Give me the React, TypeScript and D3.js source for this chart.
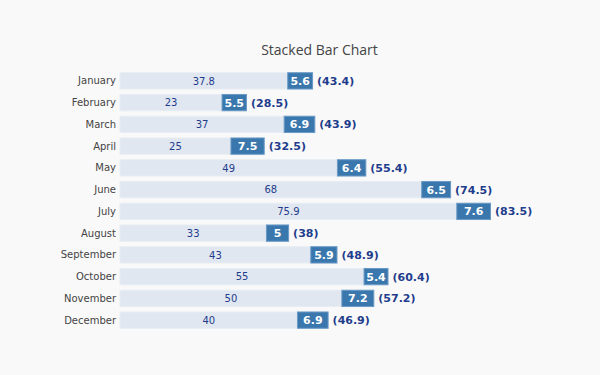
import React from "react";
import * as d3 from "d3";

const months = ["January","February","March","April","May","June","July","August","September","October","November","December"];
const baseValues = [37.8, 23, 37, 25, 49, 68, 75.9, 33, 43, 55, 50, 40];
const addValues = [5.6, 5.5, 6.9, 7.5, 6.4, 6.5, 7.6, 5, 5.9, 5.4, 7.2, 6.9];
const totalLabels = ["43.4","28.5","43.9","32.5","55.4","74.5","83.5","38","48.9","60.4","57.2","46.9"];

const W = 600, H = 375;
const margin = { left: 120, right: 90, top: 70, bottom: 44 };
const FONT = "'DejaVu Sans', Verdana, sans-serif";

export default function App() {
  const maxTotal = d3.max(baseValues.map((b, i) => b + addValues[i])) as number;
  const x = d3.scaleLinear().domain([0, maxTotal * 1.0526]).range([margin.left, W - margin.right]);
  const y = d3.scaleBand().domain(months).range([margin.top, H - margin.bottom]).paddingInner(0.25).paddingOuter(0.125);
  const bh = y.bandwidth();
  return (
    <svg width={W} height={H} style={{ position: "absolute", left: 0, top: 0, background: "#f9f9f9" }}>
      <rect x={0} y={0} width={W} height={H} fill="#f9f9f9" />
      <text x={319.5} y={55} textAnchor="middle" fontFamily="'Open Sans', sans-serif" fontSize={14} fill="#444">Stacked Bar Chart</text>
      {months.map((m, i) => {
        const yy = y(m) as number;
        const cy = yy + bh / 2;
        const b = baseValues[i], a = addValues[i];
        const x0 = x(0), x1 = x(b), x2 = x(b + a);
        return (
          <g key={m}>
            <text x={margin.left - 4} y={cy + 3.6} textAnchor="end" fontFamily={FONT} fontSize={10} fill="#444">{m}</text>
            <rect x={x0} y={yy} width={x1 - x0} height={bh} fill="#e1e7f0" stroke="#e8edf4" strokeWidth={1} />
            <rect x={x1} y={yy} width={x2 - x1} height={bh} fill="#3a77ad" stroke="#6a9ac6" strokeWidth={1} />
            <text x={(x0 + x1) / 2} y={cy + 3.8} textAnchor="middle" fontFamily={FONT} fontSize={10} fill="#1f3d8c">{String(b)}</text>
            <text x={(x1 + x2) / 2} y={cy + 4} textAnchor="middle" fontFamily={FONT} fontSize={11} fontWeight="bold" fill="#ffffff">{String(a)}</text>
            <text x={x2 + 4.5} y={cy + 4} textAnchor="start" fontFamily={FONT} fontSize={11} fontWeight="bold" fill="#1f3d8c">({totalLabels[i]})</text>
          </g>
        );
      })}
    </svg>
  );
}
